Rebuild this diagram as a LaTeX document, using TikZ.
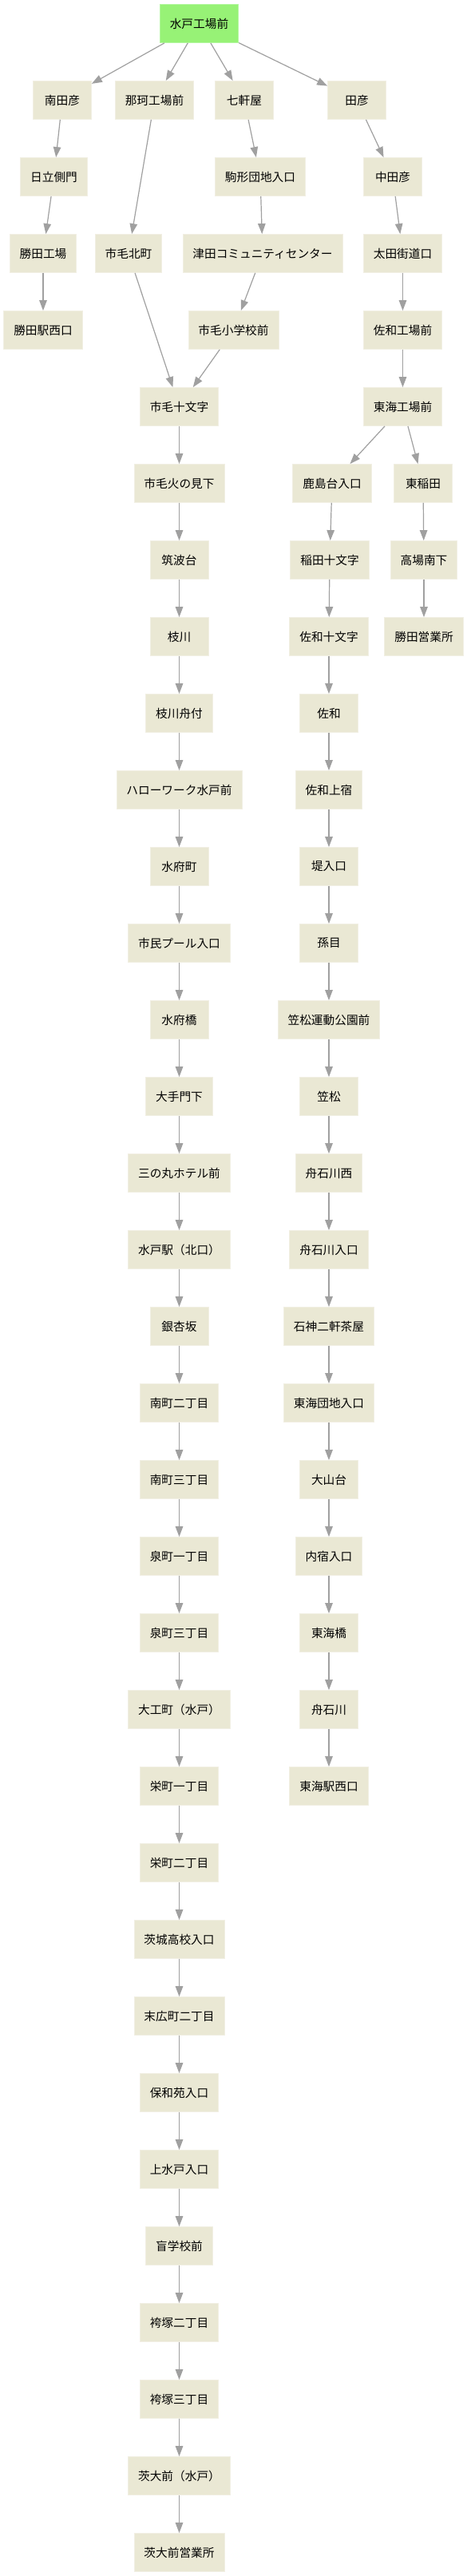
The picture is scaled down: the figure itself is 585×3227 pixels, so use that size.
\documentclass[tikz,border=0pt]{standalone}
\usepackage{fontspec}
\newfontfamily\jpfont{Noto Sans CJK JP}
\usetikzlibrary{arrows.meta}
\definecolor{stfill}{HTML}{EAE8D4}
\definecolor{stborder}{HTML}{F1EFE3}
\definecolor{rootgreen}{HTML}{97F276}
\definecolor{rootborder}{HTML}{B4F7A0}
\definecolor{edgegray}{HTML}{A0A0A0}
\newcommand{\R}[1]{-29.5-96*#1}
\tikzset{
  stn/.style={rectangle, fill=stfill, draw=stborder, line width=0.8pt,
    minimum height=48pt, minimum width=73pt, inner xsep=12.5pt, inner ysep=0pt,
    font={\jpfont\fontsize{14.67}{17}\selectfont}, text=black},
  rootstn/.style={stn, fill=rootgreen, draw=rootborder},
  link/.style={draw=edgegray, line width=1.2pt,
    -{Triangle[length=13pt,width=9.5pt,fill=edgegray]}}
}
\begin{document}
\begin{tikzpicture}[x=1pt,y=1pt]
\useasboundingbox[fill=white] (0,0) rectangle (585,-3227);
% rank 0
\node[rootstn] (n0) at (249.5,{\R{0}}) {水戸工場前};
% left branch
\node[stn] (a1) at (78,{\R{1}}) {南田彦};
\node[stn] (a2) at (67.5,{\R{2}}) {日立側門};
\node[stn] (a3) at (54,{\R{3}}) {勝田工場};
\node[stn] (a4) at (54,{\R{4}}) {勝田駅西口};
% naka branch
\node[stn] (b1) at (193.5,{\R{1}}) {那珂工場前};
\node[stn] (b3) at (161,{\R{3}}) {市毛北町};
% shichikenya branch
\node[stn] (c1) at (306,{\R{1}}) {七軒屋};
\node[stn] (c2) at (326,{\R{2}}) {駒形団地入口};
\node[stn] (c3) at (329,{\R{3}}) {津田コミュニティセンター};
\node[stn] (c4) at (292.5,{\R{4}}) {市毛小学校前};
% main column
\node[stn] (m5) at (224.5,{\R{5}}) {市毛十文字};
\node[stn] (m6) at (224.5,{\R{6}}) {市毛火の見下};
\node[stn] (m7) at (224.5,{\R{7}}) {筑波台};
\node[stn] (m8) at (224.5,{\R{8}}) {枝川};
\node[stn] (m9) at (224.5,{\R{9}}) {枝川舟付};
\node[stn] (m10) at (224.5,{\R{10}}) {ハローワーク水戸前};
\node[stn] (m11) at (224.5,{\R{11}}) {水府町};
\node[stn] (m12) at (224.5,{\R{12}}) {市民プール入口};
\node[stn] (m13) at (224.5,{\R{13}}) {水府橋};
\node[stn] (m14) at (224.5,{\R{14}}) {大手門下};
\node[stn] (m15) at (224.5,{\R{15}}) {三の丸ホテル前};
\node[stn] (m16) at (224.5,{\R{16}}) {水戸駅（北口）};
\node[stn] (m17) at (224.5,{\R{17}}) {銀杏坂};
\node[stn] (m18) at (224.5,{\R{18}}) {南町二丁目};
\node[stn] (m19) at (224.5,{\R{19}}) {南町三丁目};
\node[stn] (m20) at (224.5,{\R{20}}) {泉町一丁目};
\node[stn] (m21) at (224.5,{\R{21}}) {泉町三丁目};
\node[stn] (m22) at (224.5,{\R{22}}) {大工町（水戸）};
\node[stn] (m23) at (224.5,{\R{23}}) {栄町一丁目};
\node[stn] (m24) at (224.5,{\R{24}}) {栄町二丁目};
\node[stn] (m25) at (224.5,{\R{25}}) {茨城高校入口};
\node[stn] (m26) at (224.5,{\R{26}}) {末広町二丁目};
\node[stn] (m27) at (224.5,{\R{27}}) {保和苑入口};
\node[stn] (m28) at (224.5,{\R{28}}) {上水戸入口};
\node[stn] (m29) at (224.5,{\R{29}}) {盲学校前};
\node[stn] (m30) at (224.5,{\R{30}}) {袴塚二丁目};
\node[stn] (m31) at (224.5,{\R{31}}) {袴塚三丁目};
\node[stn] (m32) at (224.5,{\R{32}}) {茨大前（水戸）};
\node[stn] (m33) at (224.5,{\R{33}}) {茨大前営業所};
% right branch
\node[stn] (d1) at (447,{\R{1}}) {田彦};
\node[stn] (d2) at (492,{\R{2}}) {中田彦};
\node[stn] (d3) at (504.5,{\R{3}}) {太田街道口};
\node[stn] (d4) at (504.5,{\R{4}}) {佐和工場前};
\node[stn] (d5) at (504.5,{\R{5}}) {東海工場前};
\node[stn] (e6) at (416,{\R{6}}) {鹿島台入口};
\node[stn] (e7) at (413,{\R{7}}) {稲田十文字};
\node[stn] (e8) at (412,{\R{8}}) {佐和十文字};
\node[stn] (e9) at (412,{\R{9}}) {佐和};
\node[stn] (e10) at (412,{\R{10}}) {佐和上宿};
\node[stn] (e11) at (412,{\R{11}}) {堤入口};
\node[stn] (e12) at (412,{\R{12}}) {孫目};
\node[stn] (e13) at (412,{\R{13}}) {笠松運動公園前};
\node[stn] (e14) at (412,{\R{14}}) {笠松};
\node[stn] (e15) at (412,{\R{15}}) {舟石川西};
\node[stn] (e16) at (412,{\R{16}}) {舟石川入口};
\node[stn] (e17) at (412,{\R{17}}) {石神二軒茶屋};
\node[stn] (e18) at (412,{\R{18}}) {東海団地入口};
\node[stn] (e19) at (412,{\R{19}}) {大山台};
\node[stn] (e20) at (412,{\R{20}}) {内宿入口};
\node[stn] (e21) at (412,{\R{21}}) {東海橋};
\node[stn] (e22) at (412,{\R{22}}) {舟石川};
\node[stn] (e23) at (412,{\R{23}}) {東海駅西口};
\node[stn] (f6) at (530,{\R{6}}) {東稲田};
\node[stn] (f7) at (531,{\R{7}}) {高場南下};
\node[stn] (f8) at (531,{\R{8}}) {勝田営業所};
% edges
\draw[link] (n0) -- (a1);
\draw[link] (n0) -- (b1);
\draw[link] (n0) -- (c1);
\draw[link] (n0) -- (d1);
\draw[link] (a1) -- (a2);
\draw[link] (a2) -- (a3);
\draw[link] (a3) -- (a4);
\draw[link] (b1) -- (b3);
\draw[link] (b3) -- (m5);
\draw[link] (c1) -- (c2);
\draw[link] (c2) -- (c3);
\draw[link] (c3) -- (c4);
\draw[link] (c4) -- (m5);
\foreach \i [evaluate=\i as \j using int(\i+1)] in {5,...,32} {
  \draw[link] (m\i) -- (m\j);
}
\draw[link] (d1) -- (d2);
\draw[link] (d2) -- (d3);
\draw[link] (d3) -- (d4);
\draw[link] (d4) -- (d5);
\draw[link] (d5) -- (e6);
\draw[link] (d5) -- (f6);
\foreach \i [evaluate=\i as \j using int(\i+1)] in {6,...,22} {
  \draw[link] (e\i) -- (e\j);
}
\draw[link] (f6) -- (f7);
\draw[link] (f7) -- (f8);
\end{tikzpicture}
\end{document}
